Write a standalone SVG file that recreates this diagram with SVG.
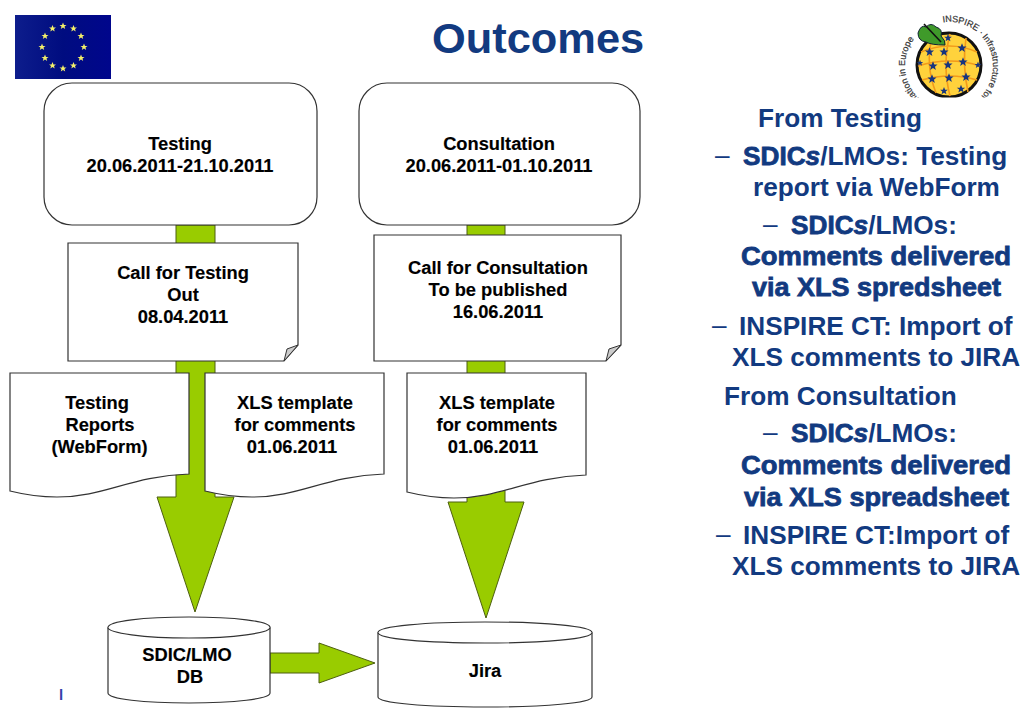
<svg xmlns="http://www.w3.org/2000/svg" width="1023" height="708" viewBox="0 0 1023 708">
<style>
.n{fill:#fff;stroke:#333;stroke-width:1.2}
.a{fill:#99cc00;stroke:#4d5f10;stroke-width:1}
.t{font:bold 18.3px "Liberation Sans",Arial,sans-serif;fill:#000;text-anchor:middle;stroke:#000;stroke-width:.15}
.b{font:bold 26.2px "Liberation Sans",Arial,sans-serif;fill:#123a80}
.d{font:normal 26.2px "Liberation Sans",Arial,sans-serif;fill:#123a80}
.v{stroke:#123a80;stroke-width:.8}
.i{font-style:italic}
.r{font:normal 9px "Liberation Sans",Arial,sans-serif;fill:#333;stroke:#333;stroke-width:.2}
</style>
<defs>
<polygon id="star" points="0,-3.6 1,-1.1 3.5,-1.1 1.5,.5 2.2,3 0,1.5 -2.2,3 -1.5,.5 -3.5,-1.1 -1,-1.1"/>
<linearGradient id="fg" x1="0" x2="1" y1="0" y2="0"><stop offset="0" stop-color="#0d1d8c"/><stop offset=".5" stop-color="#000c80"/><stop offset="1" stop-color="#00068c"/></linearGradient>
</defs>
<g id="eu-flag">
<rect x="15" y="15" width="96" height="64" fill="url(#fg)"/>
<g fill="#f4f06a">
<use href="#star" x="63" y="26"/><use href="#star" x="73.500" y="28.500"/><use href="#star" x="81" y="36"/><use href="#star" x="84" y="47"/><use href="#star" x="81" y="58"/><use href="#star" x="73.500" y="65.500"/><use href="#star" x="63" y="68.500"/><use href="#star" x="52.500" y="65.500"/><use href="#star" x="45" y="58"/><use href="#star" x="42" y="47"/><use href="#star" x="45" y="36"/><use href="#star" x="52.500" y="28.500"/>
</g>
</g>
<text x="432" y="53" style="font:bold 43.400px 'Liberation Sans',Arial,sans-serif;fill:#123a80">Outcomes</text>
<g id="inspire-logo">
<circle cx="949" cy="65" r="32" fill="#ffd23c" stroke="#111" stroke-width="3"/>
<g fill="none" stroke="#f29a1a" stroke-width="1.6">
<path d="M921,52 Q950,40 977,52M918,66 Q950,56 980,66M922,80 Q950,72 977,80M932,38 Q925,65 936,93M950,34 Q942,65 950,96M966,38 Q962,65 968,92"/>
</g>
<g fill="#16357f">
<use href="#star" transform="translate(929.500,52) scale(1.300)"/><use href="#star" transform="translate(944,52) scale(1.300)"/><use href="#star" transform="translate(962,48) scale(1.300)"/><use href="#star" transform="translate(933,66) scale(1.300)"/><use href="#star" transform="translate(948,65) scale(1.300)"/><use href="#star" transform="translate(963,62) scale(1.300)"/><use href="#star" transform="translate(978,65) scale(1)"/><use href="#star" transform="translate(932,79) scale(1.300)"/><use href="#star" transform="translate(949,78) scale(1.300)"/><use href="#star" transform="translate(966,77) scale(1.300)"/><use href="#star" transform="translate(948,38) scale(1.100)"/><use href="#star" transform="translate(944,91) scale(1.100)"/><use href="#star" transform="translate(961,89) scale(1.200)"/><use href="#star" transform="translate(920,63) scale(.9)"/>
</g>
<path d="M918,33 Q921,24 926,27 Q931,22 936,27 Q943,29 941,36 Q946,41 945,45 Q931,45 926,42 Q918,41 918,33Z" fill="#3f9a2a" stroke="#123" stroke-width="1"/>
<path d="M924,24 L941,42" stroke="#111" stroke-width="1.600" fill="none"/>
<text class="r" x="942.9 945.4 951.9 957.8 963.6 965.9 971.7 976.6 978.5 980.3 982 983.6 986.5 987.7 989.1 990.9 992 992.5 992.8 993 992.6 992.2 991 990 988 986.7 985.4 982.4" y="22.4 22.1 22.1 22.9 24.5 25.4 28.3 31.8 33.4 35.1 36.9 38.9 43 45.1 47.8 52.5 56.8 59.3 62.3 67.3 71.7 74.2 79.1 81.9 86.5 88.7 90.7 94.7" rotate="-8 -4.7 3.7 11.5 19.4 22.6 31.1 38.9 42.2 45.4 48.7 51.9 58.4 61.7 65.6 72.1 78 81.2 85.1 91.7 97.5 100.8 107.3 111.2 117.7 121 124.2 130.7">INSPIRE · Infrastructure for</text>
<text class="r" x="921.2 915.8 912.7 911.4 910.4 908.2 906.6 906 905.6 905.1 905 905.4 906.4 907.2 909.1 911.4" y="100.1 94.9 90.9 88.9 87.1 82.6 77.8 75.4 73.5 68.5 66 60 55.1 52.3 47.5 43.1" rotate="-140.8 -131 -124.5 -121.3 -118.7 -112.1 -105.6 -102.4 -99.8 -93.3 -90 -82.2 -75.7 -71.8 -65.2 -58.7">mation in Europe</text>
<rect x="890" y="97.500" width="133" height="9" fill="#fff"/>
</g>
<g id="connectors">
<polygon class="a" points="176,225 215,225 215,497 234,497 195,612 157,497 176,497"/>
<polygon class="a" points="467,225 505,225 505,502 524,502 486,618 448,502 467,502"/>
<polygon class="a" points="270,653 319,653 319,643 375,663 319,683 319,673 270,673"/>
</g>
<g id="testing"><rect class="n" x="44" y="83" width="273" height="142" rx="28"/>
<text class="t" x="180" y="150">Testing</text><text class="t" x="180" y="172">20.06.2011-21.10.2011</text></g>
<g id="consultation"><rect class="n" x="359" y="83" width="281" height="142" rx="28"/>
<text class="t" x="499" y="150">Consultation</text><text class="t" x="499" y="172">20.06.2011-01.10.2011</text></g>
<g id="call-testing"><path class="n" d="M68,243H298V345L284,361H68Z"/>
<path d="M284,361L287,349L298,345Z" fill="#ccc" stroke="#333" stroke-width="1"/>
<text class="t" x="183" y="279">Call for Testing</text><text class="t" x="183" y="301">Out</text><text class="t" x="183" y="323">08.04.2011</text></g>
<g id="call-consultation"><path class="n" d="M374,235H621V345L606,361H374Z"/>
<path d="M606,361L609,349L621,345Z" fill="#ccc" stroke="#333" stroke-width="1"/>
<text class="t" x="498" y="274">Call for Consultation</text><text class="t" x="498" y="296">To be published</text><text class="t" x="498" y="318">16.06.2011</text></g>
<g id="testing-reports"><path class="n" d="M10,373H189V474C130,476 105,497 57,497C38,497 22,494 10,491Z"/>
<text class="t" x="97" y="409">Testing</text><text class="t" x="100" y="431">Reports</text><text class="t" x="99.500" y="453">(WebForm)</text></g>
<g id="xls-template-1"><path class="n" d="M205,373H384V474C325,476 300,497 252,497C233,497 217,494 205,491Z"/>
<text class="t" x="295" y="409">XLS template</text><text class="t" x="295" y="431">for comments</text><text class="t" x="292" y="453">01.06.2011</text></g>
<g id="xls-template-2"><path class="n" d="M407,373H586V475C527,477 502,498 454,498C435,498 419,495 407,492Z"/>
<text class="t" x="497" y="409">XLS template</text><text class="t" x="497" y="431">for comments</text><text class="t" x="493" y="453">01.06.2011</text></g>
<g id="sdic-lmo-db"><path class="n" d="M108,627.500C108,621 144,617 189,617S270,621 270,627.500V693C270,699 234,703 189,703S108,699 108,693Z"/>
<path class="n" d="M108,627.500C108,633 144,638 189,638S270,633 270,627.500" fill="none"/>
<text class="t" x="187" y="661">SDIC/LMO</text><text class="t" x="190" y="683">DB</text></g>
<g id="jira"><path class="n" d="M378,632.500C378,626 426,622 485,622S592,626 592,632.500V697C592,703 544,707 485,707S378,703 378,697Z"/>
<path class="n" d="M378,632.500C378,639 426,643 485,643S592,639 592,632.500" fill="none"/>
<text class="t" x="485" y="677">Jira</text></g>
<text x="59" y="700" style="font:bold 15px 'Liberation Sans',Arial,sans-serif;fill:#3344aa">l</text>
<g id="bullets">
<text class="b" x="758" y="127">From Testing</text>
<text class="d" x="715" y="164">–</text>
<text class="b" x="743" y="165"><tspan class="v">SDIC<tspan class="i">s</tspan></tspan>/LMOs: Testing</text>
<text class="b" x="753" y="196">report via WebForm</text>
<text class="d" x="763" y="233">–</text>
<text class="b" x="791" y="234"><tspan class="v">SDIC<tspan class="i">s</tspan></tspan>/LMOs:</text>
<text class="b v" x="741" y="265" textLength="270" lengthAdjust="spacingAndGlyphs">Comments delivered</text>
<text class="b v" x="752" y="296" textLength="249" lengthAdjust="spacingAndGlyphs">via XLS spredsheet</text>
<text class="d" x="712" y="334">–</text>
<text class="b" x="739" y="335">INSPIRE CT: Import of</text>
<text class="b" x="732" y="366">XLS comments to JIRA</text>
<text class="b" x="724" y="405">From Consultation</text>
<text class="d" x="763" y="441">–</text>
<text class="b" x="791" y="442"><tspan class="v">SDIC<tspan class="i">s</tspan></tspan>/LMOs:</text>
<text class="b v" x="741" y="474" textLength="270" lengthAdjust="spacingAndGlyphs">Comments delivered</text>
<text class="b v" x="744" y="506" textLength="265" lengthAdjust="spacingAndGlyphs">via XLS spreadsheet</text>
<text class="d" x="716" y="543">–</text>
<text class="b" x="743" y="544">INSPIRE CT:Import of</text>
<text class="b" x="732" y="575">XLS comments to JIRA</text>
</g>
</svg>
